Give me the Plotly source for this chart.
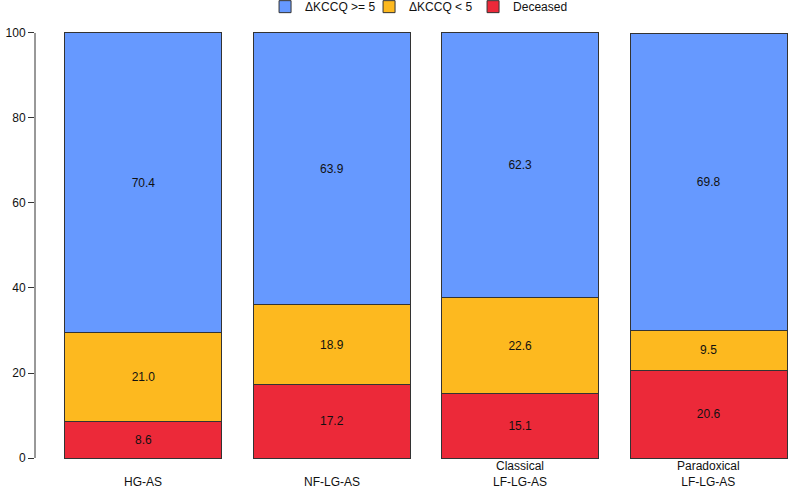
import plotly.graph_objects as go

# group labels and stacked percentages (bottom to top)
groups = ["HG-AS", "NF-LG-AS", "Classical<br>LF-LG-AS", "Paradoxical<br>LF-LG-AS"]
deceased = [8.6, 17.2, 15.1, 20.6]
kccq_lt5 = [21.0, 18.9, 22.6, 9.5]
kccq_ge5 = [70.4, 63.9, 62.3, 69.8]

series = [
    ("Deceased", deceased, "#EC2939"),
    ("\u0394KCCQ < 5", kccq_lt5, "#FDB91F"),
    ("\u0394KCCQ >= 5", kccq_ge5, "#6699FF"),
]

# R barplot style positions: width 1, space 0.2
xpos = [0.7 + 1.2 * i for i in range(len(groups))]

fig = go.Figure()
for name, vals, col in series:
    fig.add_trace(go.Bar(
        x=xpos, y=vals, width=1, name=name,
        marker=dict(color=col, line=dict(color="#333333", width=1)),
        text=[f"{v:.1f}" for v in vals],
        textposition="inside", insidetextanchor="middle",
        textfont=dict(color="#111111", size=12),
        hoverinfo="skip",
    ))

for x, g in zip(xpos, groups):
    fig.add_annotation(x=x, y=-0.033, xref="x", yref="paper", text=g,
                       showarrow=False, yanchor="bottom",
                       font=dict(size=12, color="#111111"))

# R-style y axis line, only spanning the data range
fig.add_shape(type="line", xref="paper", yref="y", x0=0, x1=0, y0=0, y1=100,
              line=dict(color="#333333", width=1))

fig.update_layout(
    width=789, height=488,
    barmode="stack",
    plot_bgcolor="white", paper_bgcolor="white",
    font=dict(family="Liberation Sans, Arial", size=12, color="#111111"),
    margin=dict(l=35, r=0, t=0, b=13, autoexpand=False),
    showlegend=True,
    legend=dict(orientation="h", traceorder="reversed", x=0.512, xanchor="center",
                y=0.986, yanchor="middle", font=dict(size=12),
                itemwidth=30, entrywidth=59, entrywidthmode="pixels",
                bgcolor="rgba(0,0,0,0)"),
    xaxis=dict(range=[0.009, 4.812], showticklabels=False, showgrid=False,
               zeroline=False, showline=False, ticks="", automargin=False),
    yaxis=dict(range=[-4, 107.76], tickvals=[0, 20, 40, 60, 80, 100],
               showgrid=False, zeroline=False, showline=False,
               ticks="outside", ticklen=6, tickcolor="#333333",
               tickfont=dict(size=12), automargin=False),
)

# drop the browser's default page margin so the figure sits at 0,0
fig.write_html("out.html", config={"displayModeBar": False},
               post_script="document.body.style.margin='0';")
